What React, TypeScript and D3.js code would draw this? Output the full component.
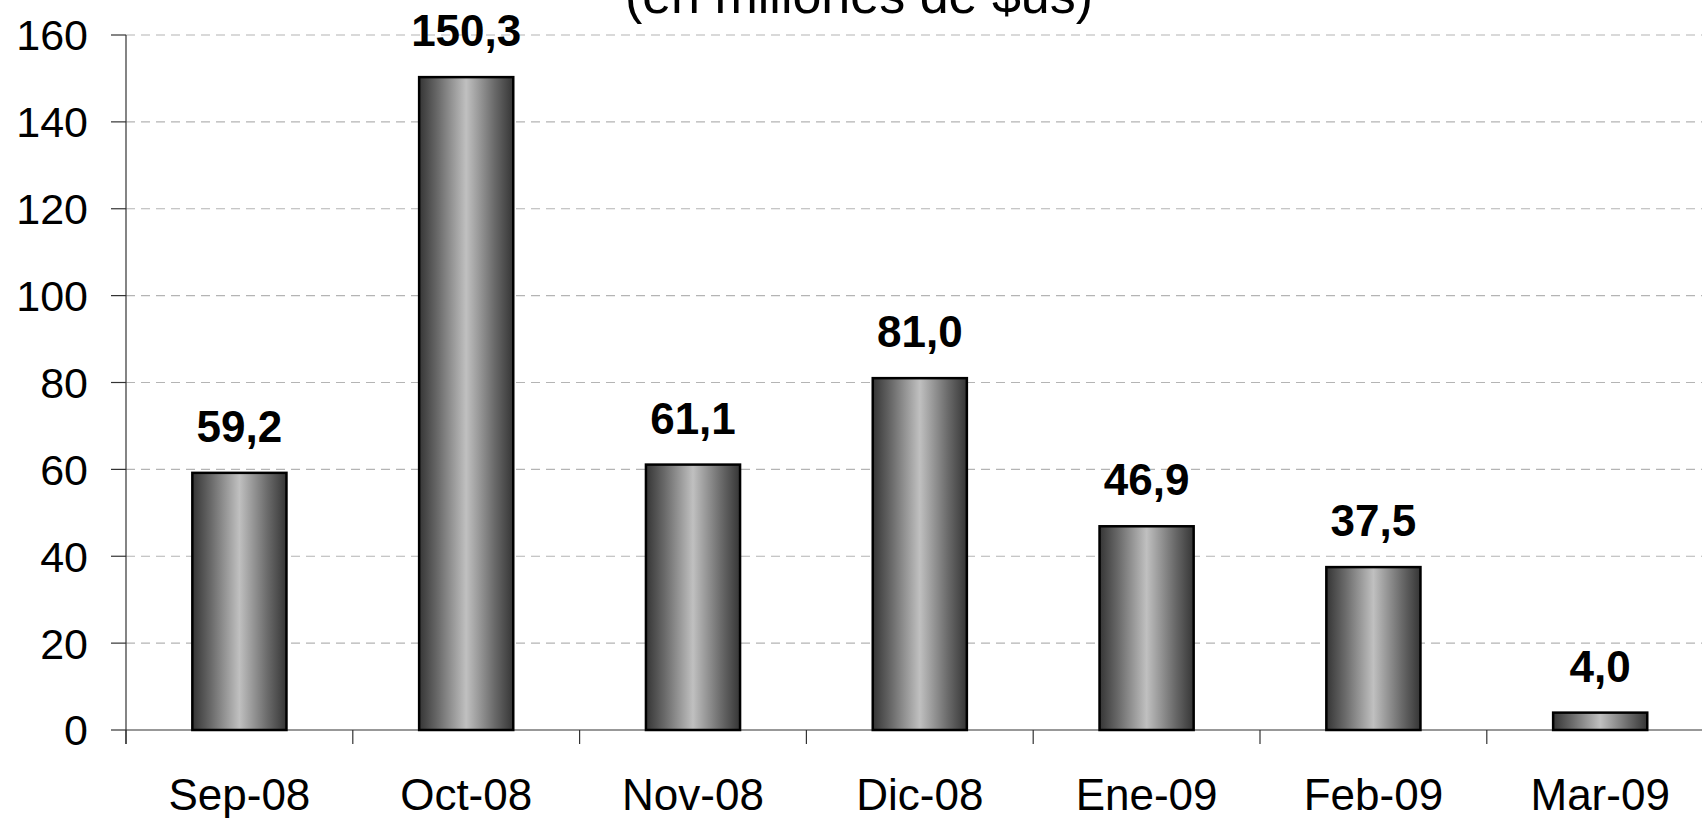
import React from "react";
import * as d3 from "d3";

const categories = ["Sep-08", "Oct-08", "Nov-08", "Dic-08", "Ene-09", "Feb-09", "Mar-09"];
const values = [59.2, 150.3, 61.1, 81.0, 46.9, 37.5, 4.0];
const valueLabels = ["59,2", "150,3", "61,1", "81,0", "46,9", "37,5", "4,0"];
const yTicks = [0, 20, 40, 60, 80, 100, 120, 140, 160];
const subtitle = "(en millones de $us)";

const W = 1702;
const H = 818;
const FONT = "'Liberation Sans', Arial, Helvetica, sans-serif";

export default function App() {
  const left = 126;
  const step = 226.8;
  const x = d3.scaleBand<string>().domain(categories).range([left, left + step * categories.length]).padding(0);
  const y = d3.scaleLinear().domain([0, 160]).range([730, 35]);
  const barW = x.bandwidth() * 0.415;
  const right = W;
  const boundaries = categories.map((c) => x(c) as number);

  return (
    <svg width={W} height={H} style={{ position: "absolute", left: 0, top: 0, background: "#fff" }}>
      <defs>
        <linearGradient id="barGrad" x1="0" x2="1" y1="0" y2="0">
          <stop offset="0%" stopColor="#353535" />
          <stop offset="20%" stopColor="#6a6a6a" />
          <stop offset="50%" stopColor="#c0c0c0" />
          <stop offset="80%" stopColor="#6a6a6a" />
          <stop offset="100%" stopColor="#353535" />
        </linearGradient>
      </defs>

      <text x={859} y={13} textAnchor="middle" fontFamily={FONT} fontSize={52} fill="#000">
        {subtitle}
      </text>

      {yTicks.filter((t) => t > 0).map((t) => (
        <line key={"g" + t} x1={left} x2={right} y1={y(t)} y2={y(t)} stroke="#b4b4b4" strokeWidth={1.2} strokeDasharray="9 6" />
      ))}

      {yTicks.map((t) => (
        <g key={"yt" + t}>
          <line x1={left - 15} x2={left} y1={y(t)} y2={y(t)} stroke="#333" strokeWidth={1.2} />
          <text x={88} y={y(t)} dy="0.36em" textAnchor="end" fontFamily={FONT} fontSize={43} fill="#000">
            {t}
          </text>
        </g>
      ))}

      <line x1={left} x2={left} y1={y(160)} y2={744} stroke="#333" strokeWidth={1.2} />
      <line x1={left} x2={right} y1={y(0)} y2={y(0)} stroke="#333" strokeWidth={1.2} />
      {boundaries.map((b, i) => (
        <line key={"xt" + i} x1={b} x2={b} y1={y(0)} y2={744} stroke="#333" strokeWidth={1.2} />
      ))}

      {categories.map((c, i) => {
        const cx = (x(c) as number) + x.bandwidth() / 2;
        const v = values[i];
        return (
          <g key={c}>
            <rect
              x={cx - barW / 2}
              y={y(v)}
              width={barW}
              height={y(0) - y(v)}
              fill="url(#barGrad)"
              stroke="#000"
              strokeWidth={2.5}
            />
            <text x={cx} y={y(v) - 31} textAnchor="middle" fontFamily={FONT} fontWeight="bold" fontSize={44} fill="#000">
              {valueLabels[i]}
            </text>
            <text x={cx} y={810} textAnchor="middle" fontFamily={FONT} fontSize={44} fill="#000">
              {c}
            </text>
          </g>
        );
      })}
    </svg>
  );
}
